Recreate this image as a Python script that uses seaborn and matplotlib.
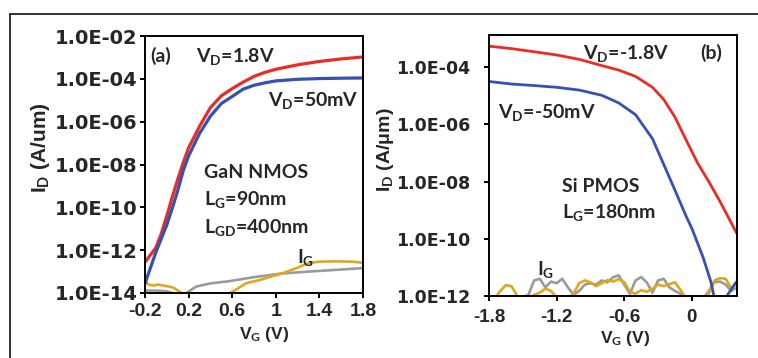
import numpy as np
import pandas as pd
import matplotlib
matplotlib.use("Agg")
import matplotlib.pyplot as plt
import seaborn as sns
from matplotlib.ticker import NullLocator
from matplotlib.patches import Rectangle

# ---------------- data: panel (a) GaN NMOS ----------------
vg_a_hi = [-0.2, -0.15, -0.1, -0.05, 0.0, 0.05, 0.1, 0.15, 0.2, 0.3, 0.4, 0.5, 0.6,
           0.7, 0.8, 0.9, 1.0, 1.2, 1.4, 1.6, 1.8]
id_a_hi = [2.7e-13, 6e-13, 1.3e-12, 6e-12, 4e-11, 3e-10, 2e-9, 1.2e-8, 6e-8, 6e-7,
           4.5e-6, 1.6e-5, 3.5e-5, 7e-5, 1.3e-4, 2e-4, 2.8e-4, 4.5e-4, 6.5e-4, 8.5e-4, 1.05e-3]
vg_a_lo = [-0.2, -0.15, -0.1, -0.05, 0.0, 0.05, 0.1, 0.15, 0.2, 0.3, 0.4, 0.5, 0.6,
           0.7, 0.8, 0.9, 1.0, 1.2, 1.4, 1.6, 1.8]
id_a_lo = [2.8e-14, 1.5e-13, 8e-13, 3.5e-12, 1.5e-11, 9e-11, 6e-10, 5e-9, 2.5e-8, 2.8e-7,
           1.8e-6, 7e-6, 1.5e-5, 3.3e-5, 5e-5, 6.5e-5, 8e-5, 9.5e-5, 1.03e-4, 1.07e-4, 1.1e-4]
vg_a_ig1 = [-0.2, -0.1, 0.0, 0.08, 0.15, 0.18, 0.27, 0.4, 0.58, 0.8, 1.04, 1.3, 1.55, 1.8]
ig_a_ig1 = [1.3e-14, 1.3e-14, 1.2e-14, 9e-15, 8e-15, 1e-14, 2e-14, 2.8e-14, 3.6e-14,
            5.5e-14, 8e-14, 1e-13, 1.2e-13, 1.45e-13]
vg_a_ig2 = [-0.2, -0.17, -0.12, -0.08, -0.03, 0.02, 0.06, 0.1, 0.14, 0.18, 0.5, 0.58,
            0.65, 0.73, 0.85, 0.95, 1.05, 1.19, 1.3, 1.4, 1.55, 1.7, 1.8]
ig_a_ig2 = [4e-14, 2.5e-14, 2.2e-14, 2.5e-14, 2.2e-14, 2e-14, 1.8e-14, 1.3e-14, 1e-14,
            7e-15, 7e-15, 1e-14, 1.6e-14, 2.9e-14, 4e-14, 5.7e-14, 8e-14, 1.45e-13,
            2.5e-13, 2.9e-13, 3e-13, 2.9e-13, 2.6e-13]

# ---------------- data: panel (b) Si PMOS ----------------
vg_b_hi = [-1.8, -1.6, -1.4, -1.2, -1.0, -0.8, -0.65, -0.5, -0.35, -0.25, -0.15, -0.05,
           0.05, 0.15, 0.25, 0.4]
id_b_hi = [5.5e-4, 4.5e-4, 3.5e-4, 2.7e-4, 1.9e-4, 1.15e-4, 8e-5, 4.8e-5, 2e-5, 7.5e-6,
           1.8e-6, 2.8e-7, 4.5e-8, 1e-8, 2e-9, 1.5e-10]
vg_b_lo = [-1.8, -1.6, -1.4, -1.2, -1.0, -0.8, -0.65, -0.5, -0.35, -0.25, -0.15, -0.05,
           0.0, 0.1, 0.17, 0.2, 0.3, 0.31, 0.39]
id_b_lo = [3.2e-5, 2.6e-5, 2.3e-5, 2e-5, 1.6e-5, 1.05e-5, 5.7e-6, 2.2e-6, 3.2e-7, 4e-8,
           5e-9, 6e-10, 2.3e-10, 2.2e-11, 3e-12, 8e-13, 8e-13, 1e-12, 3e-12]
vg_b_ig = [-1.8, -1.75, -1.7, -1.65, -1.6, -1.55, -1.5, -1.45, -1.4, -1.35, -1.3, -1.25,
           -1.2, -1.15, -1.1, -1.05, -1.0, -0.95, -0.9, -0.85, -0.8, -0.75, -0.7, -0.65,
           -0.6, -0.55, -0.5, -0.45, -0.4, -0.35, -0.3, -0.25, -0.2, -0.15, -0.1, -0.05,
           0.0, 0.05, 0.1, 0.15, 0.2, 0.25, 0.3, 0.35, 0.4]
ig_b_gold = [8e-13, 8e-13, 1.5e-12, 2.4e-12, 2.2e-12, 1e-12, 8e-13, 8e-13, 1.1e-12, 1.3e-12,
             1.8e-12, 1.5e-12, 9e-13, 8e-13, 8e-13, 1.2e-12, 2.8e-12, 3.5e-12, 3e-12, 2.2e-12,
             2.8e-12, 3.6e-12, 3.2e-12, 3.9e-12, 3e-12, 1.4e-12, 1.2e-12, 1.6e-12, 1.4e-12,
             1.8e-12, 2.5e-12, 2.2e-12, 2.6e-12, 3e-12, 1.6e-12, 8e-13, 8e-13, 8e-13, 8e-13,
             1.2e-12, 3.5e-12, 4.2e-12, 4e-12, 1.8e-12, 3e-12]
ig_b_gray = [8e-13, 8e-13, 8e-13, 8e-13, 8e-13, 8e-13, 9e-13, 1.1e-12, 3.5e-12, 4e-12,
             2e-12, 3.2e-12, 2.8e-12, 4e-12, 2e-12, 1.1e-12, 1.5e-12, 2.5e-12, 2.8e-12,
             2.5e-12, 3.5e-12, 3e-12, 4.5e-12, 5.3e-12, 2.5e-12, 1.2e-12, 3.5e-12, 4.6e-12,
             3e-12, 1.3e-12, 3.5e-12, 4e-12, 2e-12, 1.5e-12, 1.2e-12, 9e-13, 8e-13, 8e-13,
             8e-13, 1.5e-12, 3e-12, 3.2e-12, 2.5e-12, 1.5e-12, 2e-12]

# ---------------- ticks ----------------
xticks_a = [-0.2, 0.2, 0.6, 1.0, 1.4, 1.8]
xticklabels_a = ["-0.2", "0.2", "0.6", "1", "1.4", "1.8"]
yticks_a = [1e-14, 1e-12, 1e-10, 1e-8, 1e-6, 1e-4, 1e-2]
yticklabels_a = ["1.0E-14", "1.0E-12", "1.0E-10", "1.0E-08", "1.0E-06", "1.0E-04", "1.0E-02"]
xticks_b = [-1.8, -1.2, -0.6, 0.0]
xticklabels_b = ["-1.8", "-1.2", "-0.6", "0"]
yticks_b = [1e-12, 1e-10, 1e-8, 1e-6, 1e-4]
yticklabels_b = ["1.0E-12", "1.0E-10", "1.0E-08", "1.0E-06", "1.0E-04"]

RED = "#ec2b25"
BLUE = "#3552b2"
GRAY = "#9a9a9a"
GOLD = "#dfa71c"

sns.set_style("ticks")
plt.rcParams["font.family"] = ["Liberation Sans", "DejaVu Sans"]
plt.rcParams["font.weight"] = "bold"
plt.rcParams["mathtext.fontset"] = "custom"
plt.rcParams["mathtext.rm"] = "Lato:bold"
plt.rcParams["mathtext.it"] = "Lato:bold"
plt.rcParams["mathtext.bf"] = "Lato:bold"

W, H = 758, 358
fig = plt.figure(figsize=(W / 100, H / 100), dpi=100)
fig.patch.set_facecolor("white")


def rect(l, t, r, b):
    return [l / W, 1 - b / H, (r - l) / W, (b - t) / H]


ax_a = fig.add_axes(rect(145, 36, 363, 293))
ax_b = fig.add_axes(rect(489, 35, 737, 296))


def line(ax, x, y, color, lw):
    df = pd.DataFrame({"vg": x, "i": y})
    sns.lineplot(data=df, x="vg", y="i", ax=ax, color=color, lw=lw,
                 sort=False, estimator=None, legend=False)


line(ax_a, vg_a_ig1, ig_a_ig1, GRAY, 1.9)
line(ax_a, vg_a_ig2, ig_a_ig2, GOLD, 1.9)
line(ax_a, vg_a_hi, id_a_hi, RED, 2.3)
line(ax_a, vg_a_lo, id_a_lo, BLUE, 2.3)

line(ax_b, vg_b_ig, ig_b_gray, GRAY, 1.9)
line(ax_b, vg_b_ig, ig_b_gold, GOLD, 1.9)
line(ax_b, vg_b_hi, id_b_hi, RED, 2.0)
line(ax_b, vg_b_lo, id_b_lo, BLUE, 2.0)

for ax in (ax_a, ax_b):
    ax.set_yscale("log")
    ax.yaxis.set_minor_locator(NullLocator())
    ax.set_xlabel("")
    ax.set_ylabel("")
    ax.set_facecolor("white")
    for s in ax.spines.values():
        s.set_visible(True)
        s.set_linewidth(1.4)
        s.set_color("black")
    ax.tick_params(axis="both", which="major", length=3.6, width=1.4, color="black",
                   direction="out")

ax_a.set_xlim(-0.2, 1.8)
ax_a.set_ylim(1e-14, 1e-2)
ax_a.set_xticks(xticks_a, xticklabels_a)
ax_a.set_yticks(yticks_a, yticklabels_a)
ax_a.tick_params(axis="x", pad=3.5, labelsize=14)
ax_a.tick_params(axis="y", pad=2, labelsize=14)
for t in ax_a.get_yticklabels():
    t.set_fontfamily("DejaVu Sans")
    t.set_fontweight("bold")

ax_b.set_xlim(-1.8, 0.4)
ax_b.set_ylim(1e-12, 1.35e-3)
ax_b.set_xticks(xticks_b, xticklabels_b)
ax_b.set_yticks(yticks_b, yticklabels_b)
ax_b.tick_params(axis="x", pad=5.5, labelsize=13.5)
ax_b.tick_params(axis="y", pad=10, labelsize=12.5)
for t in ax_b.get_yticklabels():
    t.set_fontfamily("DejaVu Sans")
    t.set_fontweight("bold")

# axis labels
fig.text(40 / W, 1 - 148 / H, r"I$_\mathrm{D}$ (A/um)", rotation=90, ha="center",
         va="center", fontsize=15, fontweight="bold")
fig.text(386 / W, 1 - 150 / H, r"I$_\mathrm{D}$ (A/μm)", rotation=90, ha="center",
         va="center", fontsize=14, fontweight="bold")
fig.text(264 / W, 1 - 334 / H, r"V$_\mathrm{G}$ (V)", ha="center", va="center",
         fontsize=12.5, fontweight="bold")
fig.text(625 / W, 1 - 338 / H, r"V$_\mathrm{G}$ (V)", ha="center", va="center",
         fontsize=12.5, fontweight="bold")

# annotations (left x, baseline y in pixels)
ann = [
    ("(a)", 150, 62),
    (r"V$_\mathrm{D}$=1.8V", 196, 62),
    (r"V$_\mathrm{D}$=50mV", 268, 106),
    ("GaN NMOS", 204, 178),
    (r"L$_\mathrm{G}$=90nm", 204, 205),
    (r"L$_\mathrm{GD}$=400nm", 204, 233),
    (r"I$_\mathrm{G}$", 297, 263),
    (r"V$_\mathrm{D}$=-1.8V", 583, 59),
    ("(b)", 700, 59),
    (r"V$_\mathrm{D}$=-50mV", 498, 118),
    ("Si PMOS", 562, 192),
    (r"L$_\mathrm{G}$=180nm", 562, 218),
    (r"I$_\mathrm{G}$", 537, 275),
]
for txt, x, y in ann:
    fig.text(x / W, 1 - y / H, txt, ha="left", va="baseline", fontsize=14,
             fontfamily="Lato", fontweight="bold")

# outer frame (cut by the image edge on the right and bottom)
fig.patches.append(Rectangle((10 / W, -0.1), 1.2, 1.1 - 14 / H, transform=fig.transFigure,
                             fill=False, edgecolor="#222222", lw=1.3))

fig.savefig("out.png", dpi=100)
